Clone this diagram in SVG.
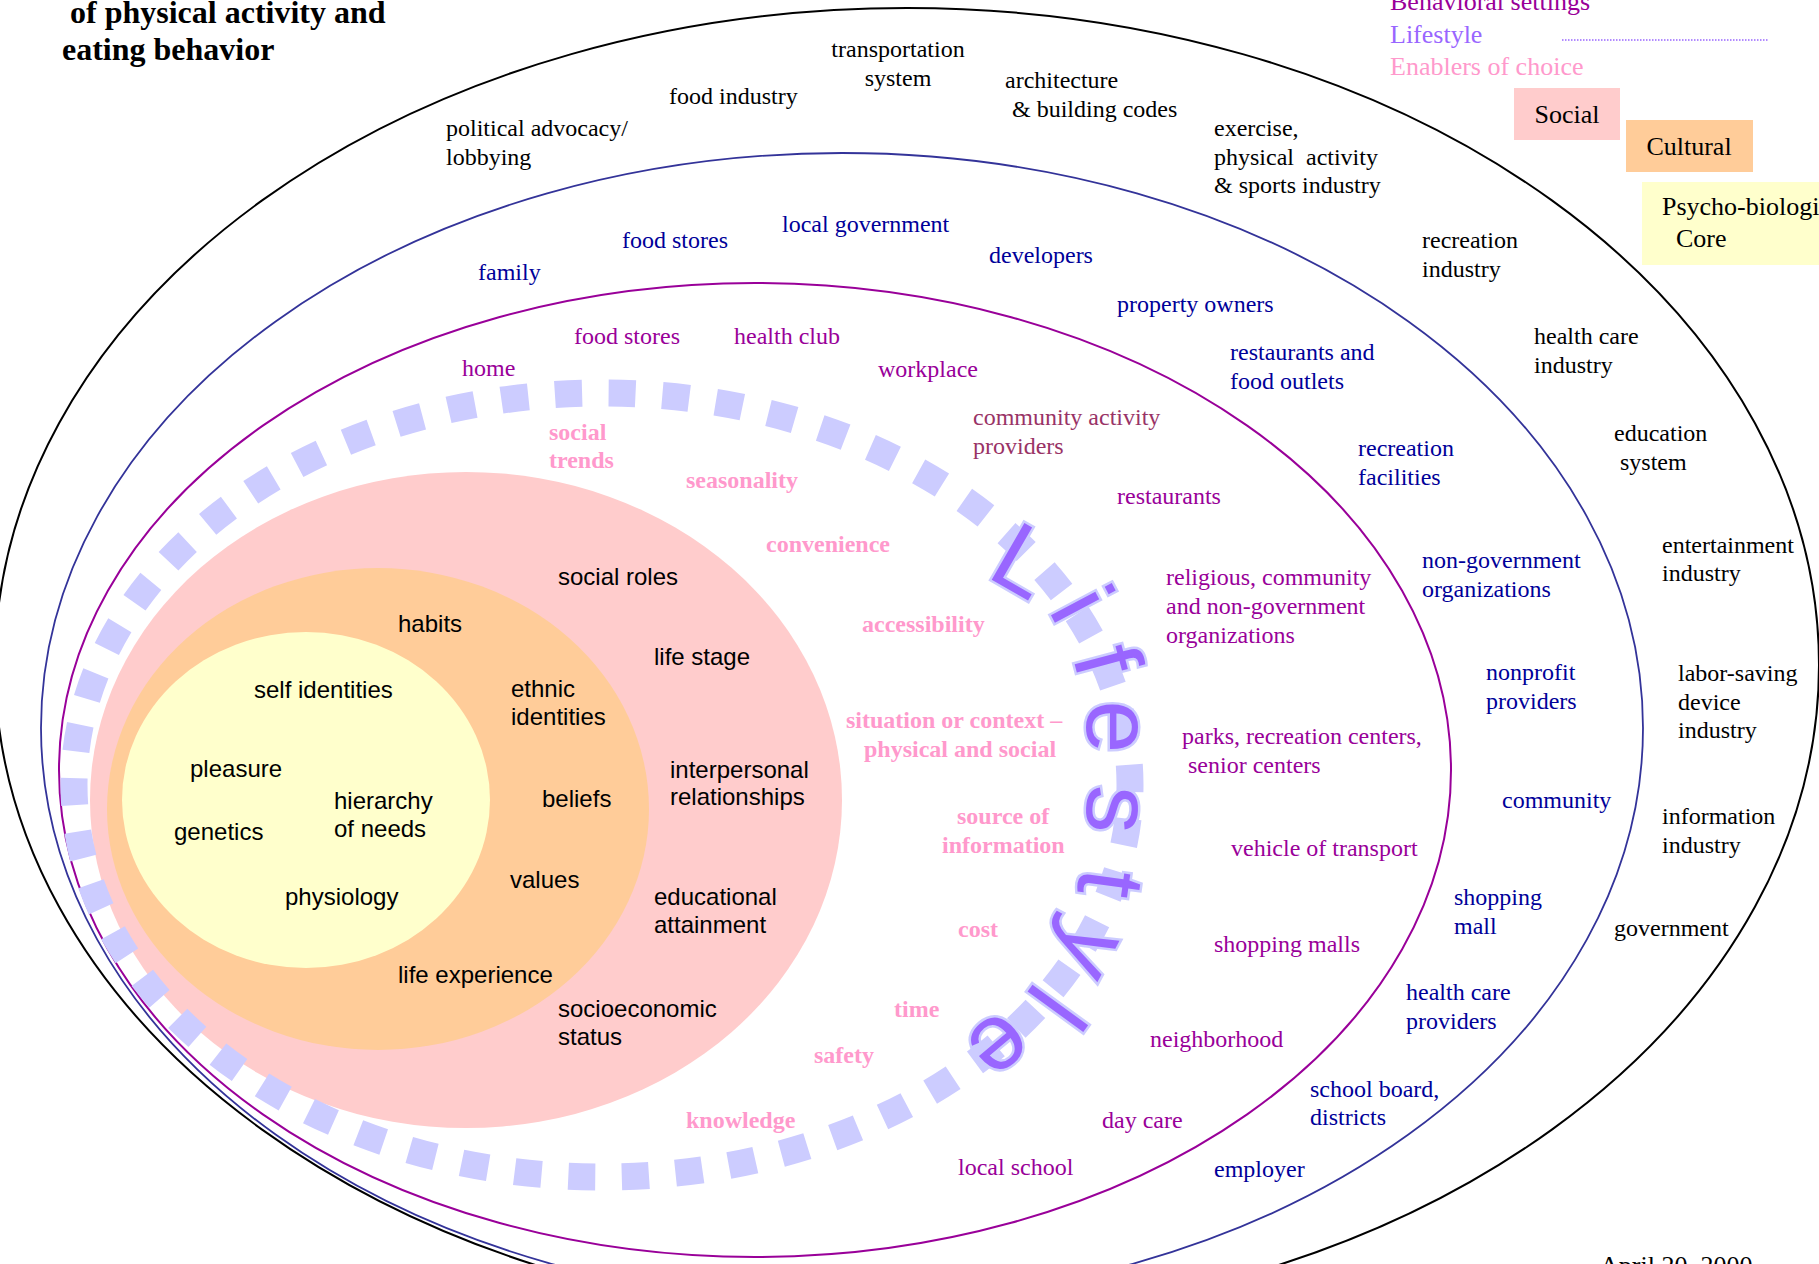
<svg xmlns="http://www.w3.org/2000/svg" width="1819" height="1264" viewBox="0 0 1819 1264">
<style>
.s{font-family:"Liberation Serif","Times New Roman",serif;font-size:24px}
.a{font-family:"Liberation Sans",Arial,sans-serif;font-size:24px;fill:#000}
.k{fill:#000}
.b{fill:#000099}
.p{fill:#990099}
.m{fill:#993366}
.e{fill:#ff99cc;font-weight:bold}
.lg{font-family:"Liberation Serif","Times New Roman",serif;font-size:26px}
.ls{font-family:"Liberation Sans",Arial,sans-serif;font-size:95px;fill:#9966ff;stroke:#ccccff;stroke-width:5;paint-order:stroke;text-anchor:middle}
</style>
<rect width="1819" height="1264" fill="#ffffff"/>
<g id="title" font-family="'Liberation Serif','Times New Roman',serif" font-weight="bold" font-size="32" fill="#000">
<text x="70" y="23">of physical activity and</text>
<text x="62" y="60">eating behavior</text>
</g>
<g id="rings" fill="none">
<ellipse id="ring-society" cx="907" cy="665" rx="912" ry="657" stroke="#000" stroke-width="2"/>
<ellipse id="ring-institutions" cx="842" cy="728" rx="801" ry="575" stroke="#333399" stroke-width="1.8"/>
<ellipse id="ring-settings" cx="755" cy="770" rx="696" ry="487" stroke="#990099" stroke-width="2"/>
</g>
<g id="core">
<ellipse id="social" cx="466" cy="800" rx="376" ry="328" fill="#ffcccc"/>
<ellipse id="cultural" cx="378" cy="809" rx="271" ry="241" fill="#ffcc99"/>
<ellipse id="psychobiological" cx="306" cy="800" rx="184" ry="168" fill="#ffffcc"/>
</g>
<g id="lifestyle-ring">
<ellipse cx="602" cy="785" rx="528" ry="392" fill="none" stroke="#ccccff" stroke-width="27" stroke-dasharray="27 26.8" stroke-dashoffset="20"/>
</g>
<g id="society-labels" class="s k">
<text x="446" y="136">political advocacy/</text>
<text x="446" y="165">lobbying</text>
<text x="669" y="104">food industry</text>
<text x="898" y="57" text-anchor="middle">transportation</text>
<text x="898" y="86" text-anchor="middle">system</text>
<text x="1005" y="88">architecture</text>
<text x="1012" y="117">&amp; building codes</text>
<text x="1214" y="136">exercise,</text>
<text x="1214" y="165" xml:space="preserve">physical  activity</text>
<text x="1214" y="193">&amp; sports industry</text>
<text x="1422" y="248">recreation</text>
<text x="1422" y="277">industry</text>
<text x="1534" y="344">health care</text>
<text x="1534" y="373">industry</text>
<text x="1614" y="441">education</text>
<text x="1620" y="470">system</text>
<text x="1662" y="553">entertainment</text>
<text x="1662" y="581">industry</text>
<text x="1678" y="681">labor-saving</text>
<text x="1678" y="710">device</text>
<text x="1678" y="738">industry</text>
<text x="1662" y="824">information</text>
<text x="1662" y="853">industry</text>
<text x="1614" y="936">government</text>
</g>
<g id="institution-labels" class="s b">
<text x="478" y="280">family</text>
<text x="622" y="248">food stores</text>
<text x="782" y="232">local government</text>
<text x="989" y="263">developers</text>
<text x="1117" y="312">property owners</text>
<text x="1230" y="360">restaurants and</text>
<text x="1230" y="389">food outlets</text>
<text x="1358" y="456">recreation</text>
<text x="1358" y="485">facilities</text>
<text x="1422" y="568">non-government</text>
<text x="1422" y="597">organizations</text>
<text x="1486" y="680">nonprofit</text>
<text x="1486" y="709">providers</text>
<text x="1502" y="808">community</text>
<text x="1454" y="905">shopping</text>
<text x="1454" y="934">mall</text>
<text x="1406" y="1000">health care</text>
<text x="1406" y="1029">providers</text>
<text x="1310" y="1097">school board,</text>
<text x="1310" y="1125">districts</text>
<text x="1214" y="1177">employer</text>
</g>
<g id="setting-labels" class="s p">
<text x="462" y="376">home</text>
<text x="574" y="344">food stores</text>
<text x="734" y="344">health club</text>
<text x="878" y="377">workplace</text>
<text class="m" x="973" y="425">community activity</text>
<text class="m" x="973" y="454">providers</text>
<text x="1117" y="504">restaurants</text>
<text x="1166" y="585">religious, community</text>
<text x="1166" y="614">and non-government</text>
<text x="1166" y="643">organizations</text>
<text x="1182" y="744">parks, recreation centers,</text>
<text x="1188" y="773">senior centers</text>
<text x="1231" y="856">vehicle of transport</text>
<text x="1214" y="952">shopping malls</text>
<text x="1150" y="1047">neighborhood</text>
<text x="1102" y="1128">day care</text>
<text x="958" y="1175">local school</text>
</g>
<g id="enabler-labels" class="s e">
<text x="549" y="440">social</text>
<text x="549" y="468">trends</text>
<text x="686" y="488">seasonality</text>
<text x="766" y="552">convenience</text>
<text x="862" y="632">accessibility</text>
<text x="846" y="728">situation or context –</text>
<text x="864" y="757">physical and social</text>
<text x="957" y="824">source of</text>
<text x="942" y="853">information</text>
<text x="958" y="937">cost</text>
<text x="894" y="1017">time</text>
<text x="814" y="1063">safety</text>
<text x="686" y="1128">knowledge</text>
</g>
<g id="core-labels" class="a">
<text x="558" y="585">social roles</text>
<text x="654" y="665">life stage</text>
<text x="670" y="778">interpersonal</text>
<text x="670" y="805">relationships</text>
<text x="654" y="905">educational</text>
<text x="654" y="933">attainment</text>
<text x="558" y="1017">socioeconomic</text>
<text x="558" y="1045">status</text>
<text x="398" y="632">habits</text>
<text x="511" y="697">ethnic</text>
<text x="511" y="725">identities</text>
<text x="542" y="807">beliefs</text>
<text x="510" y="888">values</text>
<text x="398" y="983">life experience</text>
<text x="254" y="698">self identities</text>
<text x="190" y="777">pleasure</text>
<text x="334" y="809">hierarchy</text>
<text x="334" y="837">of needs</text>
<text x="174" y="840">genetics</text>
<text x="285" y="905">physiology</text>
</g>
<g id="lifestyle-word">
<text class="ls" transform="translate(1008,589) rotate(30)">L</text>
<text class="ls" transform="translate(1053,619) rotate(62)">i</text>
<text class="ls" transform="translate(1076,669) rotate(75)">f</text>
<text class="ls" transform="translate(1087,727) rotate(90)">e</text>
<text class="ls" transform="translate(1087,808) rotate(93)">s</text>
<text class="ls" transform="translate(1079,879) rotate(98)">t</text>
<text class="ls" transform="translate(1064,938) rotate(118)">y</text>
<text class="ls" transform="translate(1030,988) rotate(126)">l</text>
<text class="ls" transform="translate(981,1024) rotate(140)">e</text>
</g>
<g id="legend">
<text class="lg" x="1390" y="10" fill="#990099">Behavioral settings</text>
<text class="lg" x="1390" y="43" fill="#9966ff">Lifestyle</text>
<line x1="1562" y1="40" x2="1768" y2="40" stroke="#9966ff" stroke-width="1.5" stroke-dasharray="1.5 1.5"/>
<text class="lg" x="1390" y="75" fill="#ff99cc">Enablers of choice</text>
<g id="key-social">
<rect x="1514" y="88" width="106" height="52" fill="#ffcccc"/>
<text class="lg" x="1567" y="123" text-anchor="middle">Social</text>
</g>
<g id="key-cultural">
<rect x="1626" y="120" width="127" height="52" fill="#ffcc99"/>
<text class="lg" x="1689" y="155" text-anchor="middle">Cultural</text>
</g>
<g id="key-psychobiological">
<rect x="1642" y="182" width="180" height="83" fill="#ffffcc"/>
<text class="lg" x="1662" y="215">Psycho-biological</text>
<text class="lg" x="1676" y="247">Core</text>
</g>
</g>
<text id="date" x="1600" y="1274" font-family="'Liberation Serif','Times New Roman',serif" font-size="26">April 20, 2000</text>
</svg>
